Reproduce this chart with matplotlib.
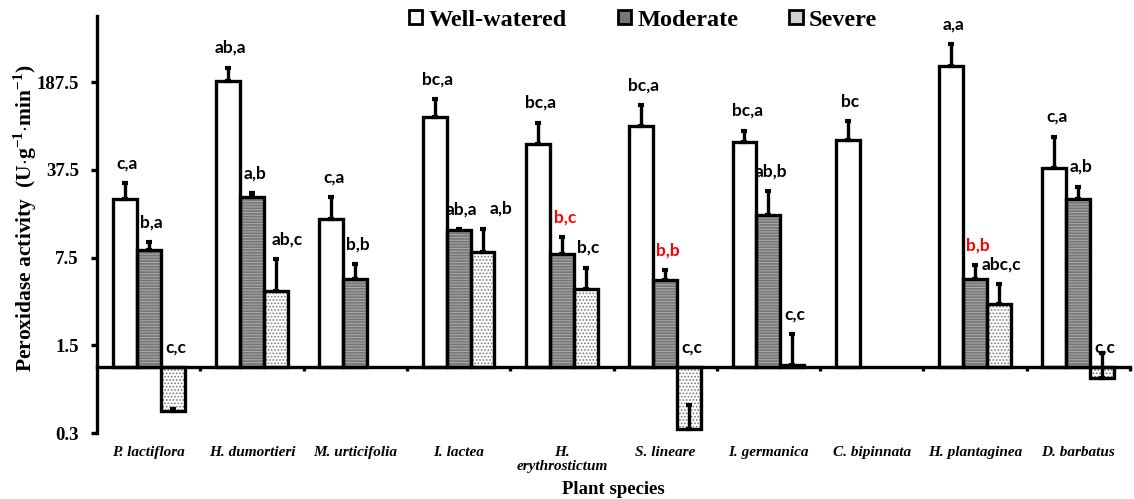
import numpy as np
import matplotlib
matplotlib.use("Agg")
import matplotlib.pyplot as plt
from matplotlib.patches import Patch

plt.rcParams['mathtext.fontset'] = 'custom'
plt.rcParams['mathtext.rm'] = 'Liberation Serif:bold'
plt.rcParams['mathtext.bf'] = 'Liberation Serif:bold'
plt.rcParams['hatch.linewidth'] = 0.8

species = ["P. lactiflora", "H. dumortieri", "M. urticifolia", "I. lactea",
           "H.\nerythrostictum", "S. lineare", "I. germanica", "C. bipinnata",
           "H. plantaginea", "D. barbatus"]

well = [21.9, 189.6, 15.2, 99.4, 60.3, 84.1, 62.9, 65.0, 252.0, 38.7]
well_err = [7.4, 54.0, 7.4, 38.0, 29.0, 38.0, 14.0, 26.0, 124.0, 30.0]
moderate = [8.6, 22.6, 5.04, 12.4, 7.96, 4.97, 16.4, np.nan, 5.04, 22.0]
moderate_err = [1.3, 1.7, 1.6, 0.2, 3.0, 1.0, 9.0, np.nan, 1.5, 5.5]
severe = [0.45, 4.09, np.nan, 8.27, 4.22, 0.321, 1.05, np.nan, 3.18, 0.83]
severe_err = [0.02, 3.2, np.nan, 4.5, 2.0, 0.18, 0.8, np.nan, 1.4, 0.48]

well_lab = ["c,a", "ab,a", "c,a", "bc,a", "bc,a", "bc,a", "bc,a", "bc", "a,a", "c,a"]
moderate_lab = ["b,a", "a,b", "b,b", "ab,a", "b,c", "b,b", "ab,b", "", "b,b", "a,b"]
severe_lab = ["c,c", "ab,c", "", "a,b", "b,c", "c,c", "c,c", "", "abc,c", "c,c"]
red_moderate = [4, 5, 8]
# small sideways nudges (points) of letter labels, as in the original
severe_nudge = [0, 6, 0, 11, 0, 0, 0, 0, 0, 0]

yticks = [0.3, 1.5, 7.5, 37.5, 187.5]

fig = plt.figure(figsize=(11.34, 4.99), dpi=100)
ax = fig.add_axes([97 / 1134, 1 - 433 / 499, (1130 - 97) / 1134, (433 - 16) / 499])
ax.set_yscale('log')

w = 0.232
x = np.arange(len(species)) + 0.5
series = [
    (well, well_err, well_lab, -w, dict(facecolor='white', hatch=None, hcol='white')),
    (moderate, moderate_err, moderate_lab, 0, dict(facecolor='#767676', hatch='------', hcol='#a8a8a8')),
    (severe, severe_err, severe_lab, w, dict(facecolor='white', hatch='.....', hcol='#7a7a7a')),
]

for k, (vals, errs, labs, off, st) in enumerate(series):
    v = np.array(vals, dtype=float)
    e = np.array(errs, dtype=float)
    # fill + hatch
    ax.bar(x + off, v - 1, bottom=1, width=w, color=st['facecolor'],
           hatch=st['hatch'], edgecolor=st['hcol'], linewidth=0, zorder=2)
    # outline
    ax.bar(x + off, v - 1, bottom=1, width=w, fill=False,
           edgecolor='black', linewidth=2.4, zorder=3)
    ax.errorbar(x + off, v, yerr=[np.zeros_like(e), e], fmt='none',
                ecolor='black', elinewidth=2.4, capsize=2, capthick=3, zorder=4)
    for i in range(len(species)):
        if not labs[i]:
            continue
        top = v[i] + e[i] if v[i] >= 1 else 1.0
        col = 'red' if (k == 1 and i in red_moderate) else 'black'
        dx = 2 + (severe_nudge[i] if k == 2 else 0)
        ax.annotate(labs[i], (x[i] + off, top), xytext=(dx, 8.5), textcoords='offset points',
                    ha='center', va='bottom', fontsize=12.5, fontweight='bold',
                    family='Lato', color=col, zorder=5)

ax.set_xlim(0, 10)
ax.set_ylim(0.3, 630)
ax.set_yticks(yticks)
ax.set_yticklabels([str(t) for t in yticks])
ax.minorticks_off()
ax.set_xticks(np.arange(1, 11))
ax.set_xticklabels([])
ax.tick_params(axis='x', direction='out', length=3, width=2.4)
ax.tick_params(axis='y', direction='out', length=4, width=2.4, pad=9)
for t in ax.get_yticklabels():
    t.set_family('Liberation Serif')
    t.set_fontweight('bold')
    t.set_fontsize(13.5)

ax.spines['top'].set_visible(False)
ax.spines['right'].set_visible(False)
ax.spines['left'].set_linewidth(2.4)
ax.spines['bottom'].set_linewidth(2.4)
ax.spines['bottom'].set_position(('data', 1))
ax.spines['bottom'].set_zorder(6)

for i, name in enumerate(species):
    ax.text(x[i], -0.03, name, transform=ax.get_xaxis_transform(), ha='center', va='top',
            family='Liberation Serif', style='italic', fontweight='bold', fontsize=11,
            linespacing=1.15)

fig.text(25 / 1134, 1 - 218 / 499, r'Peroxidase activity  (U$\cdot$g$^{-1}$$\cdot$min$^{-1}$)',
         rotation=90, ha='center', va='center', family='Liberation Serif',
         fontweight='bold', fontsize=15.5)
fig.text(613 / 1134, 1 - 490 / 499, 'Plant species', ha='center', va='center',
         family='Liberation Serif', fontweight='bold', fontsize=13.5)

handles = [Patch(facecolor='white', edgecolor='black', linewidth=2),
           Patch(facecolor='#767676', edgecolor='black', linewidth=2),
           Patch(facecolor='#d0d0d0', edgecolor='black', linewidth=2)]
fig.legend(handles, ['Well-watered', 'Moderate', 'Severe'], loc='center',
           bbox_to_anchor=(643 / 1134, 1 - 20 / 499), ncol=3, frameon=False,
           prop=dict(family='Liberation Serif', weight='bold', size=17.5),
           handlelength=0.55, handleheight=0.55, handletextpad=0.25, columnspacing=2.1)

fig.savefig('out.png', dpi=100)
